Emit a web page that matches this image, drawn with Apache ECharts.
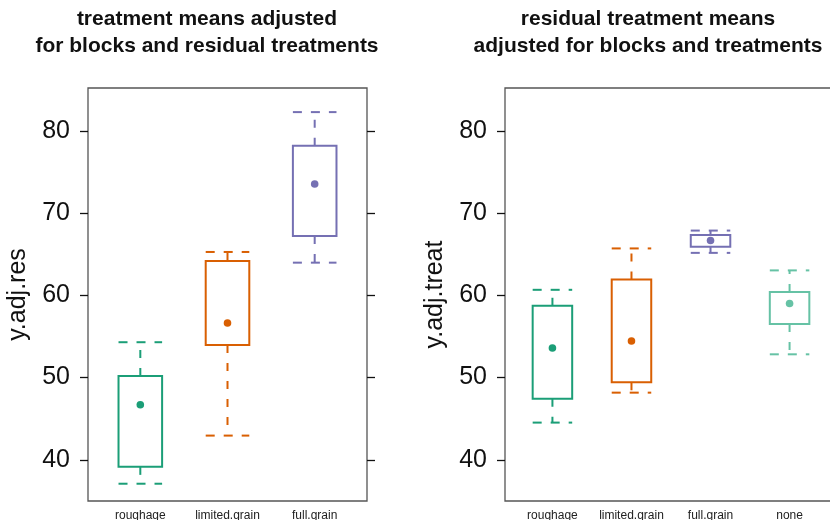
<!DOCTYPE html>
<html><head><meta charset="utf-8">
<script src="https://cdn.jsdelivr.net/npm/echarts@6/dist/echarts.min.js"></script>
<style>html,body{margin:0;padding:0;background:#fff}#c{width:830px;height:520px}</style>
</head><body><div id="c"></div>
<script>
// ---- data ----
const catsRes = ['roughage', 'limited.grain', 'full.grain'];
const catsTreat = ['roughage', 'limited.grain', 'full.grain', 'none'];
const yTicks = [40, 50, 60, 70, 80];
// left panel: y.adj.res
const resMin = [37.1, 42.95, 63.97];
const resQ1  = [39.15, 53.97, 67.2];
const resMed = [46.7, 56.64, 73.53];
const resQ3  = [50.2, 64.17, 78.18];
const resMax = [54.3, 65.27, 82.27];
// right panel: y.adj.treat
const trtMin = [44.53, 48.17, 65.16, 52.83];
const trtQ1  = [47.44, 49.43, 65.9, 56.5];
const trtMed = [53.6, 54.44, 66.66, 59.01];
const trtQ3  = [58.73, 61.93, 67.34, 60.39];
const trtMax = [60.67, 65.7, 67.87, 63.03];
const colors = ['#1B9E77', '#D95F02', '#7570B3', '#66C2A5'];

function build(mn, q1, md, q3, mx) {
  return mn.map((v, i) => [i + 1, v, q1[i], md[i], q3[i], mx[i], i]);
}

function renderItem(params, api) {
  const x = api.value(0);
  const c = colors[api.value(6)];
  const half = api.size([0.5, 0])[0] / 2;
  const pMin = api.coord([x, api.value(1)]);
  const pQ1 = api.coord([x, api.value(2)]);
  const pMed = api.coord([x, api.value(3)]);
  const pQ3 = api.coord([x, api.value(4)]);
  const pMax = api.coord([x, api.value(5)]);
  const cx = pMed[0];
  const dash = { stroke: c, lineWidth: 2, lineDash: [8, 10], fill: null };
  const capDash = { stroke: c, lineWidth: 2, lineDash: [9, 9], fill: null };
  return {
    type: 'group',
    children: [
      { type: 'line', shape: { x1: cx, y1: pQ3[1], x2: cx, y2: pMax[1] }, style: dash },
      { type: 'line', shape: { x1: cx, y1: pQ1[1], x2: cx, y2: pMin[1] }, style: dash },
      { type: 'line', shape: { x1: cx - half, y1: pMax[1], x2: cx + half, y2: pMax[1] }, style: capDash },
      { type: 'line', shape: { x1: cx - half, y1: pMin[1], x2: cx + half, y2: pMin[1] }, style: capDash },
      { type: 'rect', shape: { x: cx - half, y: pQ3[1], width: 2 * half, height: pQ1[1] - pQ3[1] },
        style: { stroke: c, lineWidth: 2, fill: '#fff' } },
      { type: 'circle', shape: { cx: cx, cy: pMed[1], r: 3.8 }, style: { fill: c, stroke: null } }
    ]
  };
}

const font = 'Liberation Sans, Arial, Helvetica, sans-serif';

function xAx(gi, cats) {
  return {
    type: 'value', gridIndex: gi, min: 0.4, max: cats.length + 0.6,
    axisLine: { show: false }, axisTick: { show: false }, splitLine: { show: false },
    axisLabel: {
      customValues: cats.map((c, i) => i + 1),
      formatter: v => cats[Math.round(v) - 1],
      fontSize: 12, color: '#222', fontFamily: font, margin: 9
    }
  };
}
function yAx(gi, name, pos, showLabel) {
  return {
    type: 'value', gridIndex: gi, min: 35, max: 85.2, position: pos,
    name: name, nameLocation: 'middle', nameGap: 57,
    nameTextStyle: { fontSize: 25, color: '#111', fontFamily: font },
    axisLine: { show: false },
    axisTick: { show: true, inside: false, length: 8, customValues: yTicks, lineStyle: { color: '#111', width: 1.3 } },
    axisLabel: { show: showLabel, customValues: yTicks, fontSize: 25, color: '#111', fontFamily: font, margin: 18 },
    splitLine: { show: false }
  };
}

const chart = echarts.init(document.getElementById('c'), null, { renderer: 'canvas' });
chart.setOption({
  animation: false,
  backgroundColor: '#fff',
  title: [
    { text: 'treatment means adjusted\nfor blocks and residual treatments', left: 207, top: 6, padding: 0,
      textAlign: 'center',
      textStyle: { fontSize: 21, fontWeight: 'bold', color: '#111', fontFamily: font, lineHeight: 27 } },
    { text: 'residual treatment means\nadjusted for blocks and treatments', left: 648, top: 6, padding: 0,
      textAlign: 'center',
      textStyle: { fontSize: 21, fontWeight: 'bold', color: '#111', fontFamily: font, lineHeight: 27 } }
  ],
  grid: [
    { left: 88, top: 88, width: 279, height: 413, outerBoundsMode: 'none', containLabel: false,
      show: true, borderColor: '#555', borderWidth: 1.3, backgroundColor: 'transparent' },
    { left: 505, top: 88, width: 332, height: 413, outerBoundsMode: 'none', containLabel: false,
      show: true, borderColor: '#555', borderWidth: 1.3, backgroundColor: 'transparent' }
  ],
  xAxis: [xAx(0, catsRes), xAx(1, catsTreat)],
  yAxis: [
    yAx(0, 'y.adj.res', 'left', true),
    Object.assign(yAx(0, '', 'right', false), { name: '' }),
    yAx(1, 'y.adj.treat', 'left', true)
  ],
  series: [
    { type: 'custom', xAxisIndex: 0, yAxisIndex: 0, renderItem: renderItem,
      data: build(resMin, resQ1, resMed, resQ3, resMax), encode: { x: 0, y: [1, 2, 3, 4, 5] } },
    { type: 'custom', xAxisIndex: 1, yAxisIndex: 2, renderItem: renderItem,
      data: build(trtMin, trtQ1, trtMed, trtQ3, trtMax), encode: { x: 0, y: [1, 2, 3, 4, 5] } }
  ]
});
</script></body></html>
